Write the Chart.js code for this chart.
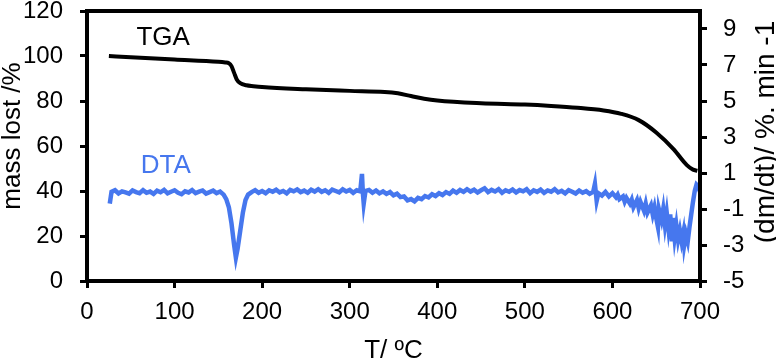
<!DOCTYPE html>
<html>
<head>
<meta charset="utf-8">
<script src="https://cdn.jsdelivr.net/npm/chart.js@4.4.1/dist/chart.umd.min.js"></script>
<style>
  body { margin: 0; background: #fff; }
  #wrap { width: 776px; height: 363px; position: relative; }
</style>
</head>
<body>
<div id="wrap"><canvas id="tga-chart"></canvas></div>
<script>
var CHART = document.getElementById("tga-chart");
var FONT = "'Liberation Sans', Arial, sans-serif";
var BLUE = "#4677EE";

// TGA curve (mass %, left axis)
var tgaTemp = [25, 50, 100, 150, 158, 162, 165, 168, 171, 175, 182, 190, 200, 250, 300, 340, 355, 370, 385, 400, 450, 500, 530, 560, 590, 610, 630, 650, 670, 685, 692, 697];
var tgaMass = [100, 99.4, 98.4, 97.4, 97.1, 96.8, 95.5, 92.5, 89.6, 87.9, 87.0, 86.6, 86.2, 85.2, 84.5, 84.0, 83.4, 82.2, 81.0, 80.2, 79.0, 78.4, 77.8, 77.0, 75.8, 74.3, 71.5, 66.0, 58.5, 51.5, 49.5, 49.0];

// DTA / derivative curve (%/min, right axis)
var dtaTemp = [
  26, 28, 32, 36, 40, 44, 48, 52, 56, 60,
  64, 68, 72, 76, 80, 84, 88, 92, 96, 100,
  104, 108, 112, 116, 120, 124, 128, 132, 136, 140,
  144, 148, 152, 156, 159, 162, 165, 168, 170, 172,
  175, 178, 181, 184, 188, 192, 196, 200, 204, 208,
  212, 216, 220, 224, 228, 232, 236, 240, 244, 248,
  252, 256, 260, 264, 268, 272, 276, 280, 284, 288,
  292, 296, 300, 304, 308, 312, 314, 315, 316, 318,
  322, 326, 330, 334, 338, 342, 346, 350, 354, 358,
  362, 366, 370, 374, 378, 382, 386, 390, 394, 398,
  402, 406, 410, 414, 418, 422, 426, 430, 434, 438,
  442, 446, 450, 454, 458, 462, 466, 470, 474, 478,
  482, 486, 490, 494, 498, 502, 506, 510, 514, 518,
  522, 526, 530, 534, 538, 542, 546, 550, 554, 558,
  562, 566, 570, 574, 578, 580, 582, 584, 588, 592,
  596, 600, 604, 606, 608, 612, 614, 616, 620, 622,
  624, 628, 630, 632, 636, 638, 640, 644, 646, 648,
  650, 652, 653, 656, 658, 660, 662, 664, 666, 668,
  669, 671, 673, 675, 677, 679, 681, 682, 684, 686,
  688, 690, 692, 694, 696, 698, 700];
var dtaRate = [
  -0.7, -0.05, 0.04, -0.14, -0.02, -0.08, -0.15, 0.03, -0.06, -0.12,
  0.05, -0.1, -0.03, -0.16, 0.02, -0.07, 0.06, -0.13, -0.04, 0.04,
  -0.1, -0.18, -0.02, -0.08, 0.05, -0.12, -0.04, 0.03, -0.14, -0.06,
  0.02, -0.12, -0.03, -0.2, -0.45, -0.9, -1.8, -3.0, -3.7, -3.2,
  -2.2, -1.2, -0.5, -0.2, -0.06, 0.05, -0.1, 0.0, -0.12, 0.04,
  -0.04, 0.07, -0.08, 0.0, -0.13, 0.06, -0.02, 0.09, -0.06, 0.02,
  -0.1, 0.07, -0.03, 0.1, -0.05, 0.04, -0.1, 0.08, 0.0, -0.08,
  0.09, -0.03, 0.06, -0.1, 0.04, -0.02, 0.95, -0.1, -0.7, 0.0,
  0.06, -0.1, 0.03, -0.13, -0.02, -0.16, -0.06, -0.24, -0.15, -0.34,
  -0.3, -0.52, -0.45, -0.58, -0.38, -0.45, -0.28, -0.36, -0.18, -0.28,
  -0.12, -0.22, -0.06, -0.16, 0.02, -0.1, 0.06, -0.05, 0.1, -0.03,
  0.07, -0.08, 0.04, 0.15, -0.06, 0.06, -0.03, 0.1, -0.1, 0.04,
  -0.04, 0.08, -0.08, 0.05, -0.02, 0.1, -0.12, 0.04, -0.05, 0.08,
  -0.1, 0.03, -0.04, 0.1, -0.08, 0.01, -0.13, 0.05, -0.04, -0.14,
  0.03, -0.1, -0.01, -0.16, -0.05, 0.4, -0.55, -0.12, -0.25, -0.05,
  -0.3, -0.12, -0.35, -0.2, -0.45, -0.3, -0.6, -0.38, -0.7, -0.48,
  -0.9, -0.5, -0.95, -0.6, -1.1, -0.7, -1.2, -0.8, -1.3, -0.9,
  -1.5, -2.0, -1.0, -1.6, -1.0, -1.9, -1.2, -2.1, -1.3, -2.8,
  -1.5, -2.6, -1.9, -2.7, -2.2, -2.8, -2.3, -3.0, -2.4, -2.8,
  -2.0, -1.3, -0.6, 0.0, 0.35, 0.25, -0.05];

var massTicks = [0, 20, 40, 60, 80, 100, 120];
var rateTicks = [-5, -3, -1, 1, 3, 5, 7, 9];

function toPoints(xs, ys) {
  return xs.map(function (x, i) { return { x: x, y: ys[i] }; });
}

var tickGrid = {
  drawOnChartArea: false,
  drawTicks: true,
  tickLength: 7,
  tickWidth: 3,
  tickColor: "#000"
};

// fixed box sizes, no extra room for overflowing end labels
function fixBox(w, h) {
  return function (s) {
    if (w) s.width = w;
    if (h) s.height = h;
    s.paddingTop = 0; s.paddingBottom = 0; s.paddingLeft = 0; s.paddingRight = 0;
  };
}

// frame, in-plot labels and the two rotated axis titles
var decorations = {
  id: "decorations",
  afterDraw: function (chart) {
    var ctx = chart.ctx;
    var a = chart.chartArea;
    var sx = chart.scales.x, sy = chart.scales.y;
    ctx.save();
    ctx.strokeStyle = "#000";
    ctx.lineWidth = 4;
    ctx.strokeRect(a.left, a.top, a.right - a.left, a.bottom - a.top);

    ctx.font = "26px " + FONT;
    ctx.textAlign = "center";
    ctx.textBaseline = "middle";
    ctx.fillStyle = "#000";
    ctx.fillText("TGA", sx.getPixelForValue(87), sy.getPixelForValue(108));
    ctx.fillStyle = BLUE;
    ctx.fillText("DTA", sx.getPixelForValue(90), sy.getPixelForValue(51));

    ctx.fillStyle = "#000";
    ctx.save();
    ctx.translate(13, 136);
    ctx.rotate(-Math.PI / 2);
    ctx.fillText("mass lost /%", 0, 0);
    ctx.restore();

    ctx.save();
    ctx.font = "28px " + FONT;
    ctx.translate(766, 132);
    ctx.rotate(-Math.PI / 2);
    ctx.fillText("(dm/dt)/ %. min -1", 0, 0);
    ctx.restore();
    ctx.restore();
  }
};

var tgaChart = new Chart(CHART, {
  type: "line",
  data: {
    datasets: [{
      label: "TGA",
      data: toPoints(tgaTemp, tgaMass),
      yAxisID: "y",
      borderColor: "#000",
      borderWidth: 4,
      pointRadius: 0,
      cubicInterpolationMode: "monotone"
    }, {
      label: "DTA",
      data: toPoints(dtaTemp, dtaRate),
      yAxisID: "y1",
      borderColor: BLUE,
      borderWidth: 4.5,
      pointRadius: 0,
      tension: 0
    }]
  },
  options: {
    responsive: true,
    maintainAspectRatio: false,
    animation: false,
    layout: { padding: { top: 11, left: 0, right: 0, bottom: 0 } },
    plugins: { legend: { display: false }, tooltip: { enabled: false } },
    scales: {
      x: {
        type: "linear",
        position: "bottom",
        min: 0,
        max: 700,
        ticks: { stepSize: 100, color: "#000", padding: 10, font: { family: FONT, size: 24 } },
        grid: tickGrid,
        border: { display: false },
        title: { display: true, text: "T/ ºC", color: "#000", font: { family: FONT, size: 26 }, padding: { top: 0, bottom: -3 } },
        afterFit: fixBox(0, 82)
      },
      y: {
        position: "left",
        min: 0,
        max: 120,
        afterBuildTicks: function (s) { s.ticks = massTicks.map(function (v) { return { value: v }; }); },
        ticks: { color: "#000", padding: 17, font: { family: FONT, size: 24 } },
        grid: tickGrid,
        border: { display: false },
        afterFit: fixBox(87, 0)
      },
      y1: {
        position: "right",
        min: -5,
        max: 10,
        afterBuildTicks: function (s) { s.ticks = rateTicks.map(function (v) { return { value: v }; }); },
        ticks: { color: "#000", padding: 16, font: { family: FONT, size: 24 } },
        grid: tickGrid,
        border: { display: false },
        afterFit: fixBox(76, 0)
      }
    }
  },
  plugins: [decorations]
});
</script>
</body>
</html>
